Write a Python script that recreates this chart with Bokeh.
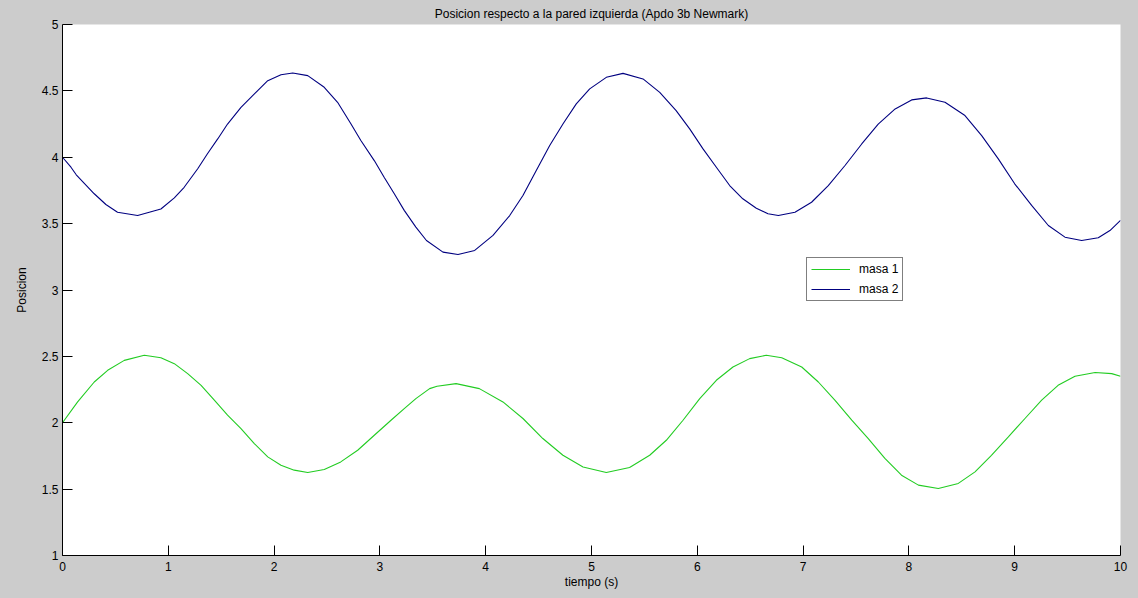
from bokeh.plotting import figure
from bokeh.models import FixedTicker, Legend, LegendItem, Range1d
from bokeh.embed import file_html
from bokeh.resources import INLINE

# ---- data ----
t_masa1 = [0.0, 0.143, 0.30, 0.427, 0.584, 0.773, 0.93, 1.057, 1.183, 1.31, 1.435, 1.56, 1.687,
           1.813, 1.94, 2.065, 2.19, 2.318, 2.474, 2.63, 2.79, 2.947, 3.105, 3.23, 3.34, 3.47,
           3.54, 3.72, 3.94, 4.163, 4.352, 4.54, 4.73, 4.92, 5.14, 5.36, 5.55, 5.707, 5.865,
           6.023, 6.18, 6.337, 6.495, 6.652, 6.798, 6.987, 7.144, 7.30, 7.46, 7.616, 7.773,
           7.93, 8.09, 8.278, 8.467, 8.625, 8.78, 8.94, 9.097, 9.255, 9.41, 9.57, 9.76, 9.917, 10.0]
masa1 = [2.0, 2.157, 2.307, 2.395, 2.47, 2.508, 2.49, 2.445, 2.37, 2.282, 2.17, 2.057, 1.956,
         1.843, 1.743, 1.68, 1.643, 1.625, 1.648, 1.705, 1.793, 1.906, 2.019, 2.107, 2.182, 2.257,
         2.275, 2.295, 2.257, 2.157, 2.032, 1.881, 1.755, 1.667, 1.625, 1.663, 1.755, 1.868, 2.019,
         2.182, 2.32, 2.42, 2.483, 2.508, 2.49, 2.42, 2.307, 2.17, 2.019, 1.881, 1.731,
         1.605, 1.53, 1.505, 1.543, 1.63, 1.755, 1.894, 2.032, 2.17, 2.282, 2.35, 2.378, 2.37, 2.35]

t_masa2 = [0.0, 0.08, 0.13, 0.30, 0.41, 0.52, 0.71, 0.93, 1.057, 1.15, 1.278, 1.37, 1.467, 1.56,
           1.687, 1.845, 1.94, 2.065, 2.176, 2.318, 2.474, 2.60, 2.727, 2.82, 2.947, 3.04, 3.136,
           3.23, 3.34, 3.44, 3.596, 3.738, 3.896, 4.069, 4.227, 4.352, 4.478, 4.605, 4.73, 4.856,
           4.983, 5.14, 5.298, 5.487, 5.645, 5.80, 5.928, 6.054, 6.18, 6.306, 6.43, 6.558, 6.668,
           6.766, 6.923, 7.08, 7.238, 7.396, 7.554, 7.71, 7.87, 8.026, 8.168, 8.341, 8.53, 8.688,
           8.845, 9.0, 9.16, 9.318, 9.475, 9.633, 9.79, 9.90, 10.0]
masa2 = [4.0, 3.925, 3.868, 3.725, 3.644, 3.586, 3.561, 3.61, 3.694, 3.774, 3.913, 4.026, 4.138, 4.25,
         4.376, 4.502, 4.577, 4.622, 4.635, 4.615, 4.527, 4.414, 4.25, 4.126, 3.975, 3.85, 3.725,
         3.60, 3.474, 3.373, 3.285, 3.268, 3.298, 3.411, 3.561, 3.712, 3.90, 4.088, 4.25, 4.402,
         4.515, 4.602, 4.632, 4.59, 4.489, 4.351, 4.214, 4.063, 3.925, 3.787, 3.687, 3.616, 3.574,
         3.561, 3.586, 3.661, 3.787, 3.938, 4.10, 4.25, 4.364, 4.432, 4.447, 4.414, 4.314, 4.163,
         3.988, 3.80, 3.637, 3.486, 3.398, 3.373, 3.393, 3.448, 3.524]

x_ticks = [0, 1, 2, 3, 4, 5, 6, 7, 8, 9, 10]
y_ticks = [1, 1.5, 2, 2.5, 3, 3.5, 4, 4.5, 5]
y_tick_labels = ["1", "1.5", "2", "2.5", "3", "3.5", "4", "4.5", "5"]
series_names = ["masa 1", "masa 2"]
series_colors = ["#22cc22", "#000080"]

title_text = "Posicion respecto a la pared izquierda (Apdo 3b Newmark)"
xlabel = "tiempo (s)"
ylabel = "Posicion"

FONT = "Liberation Sans"
BG = "#cccccc"

p = figure(width=1138, height=598, output_backend="svg", toolbar_location=None,
           x_range=Range1d(0, 10), y_range=Range1d(1, 5),
           min_border_left=62, min_border_right=18, min_border_top=24, min_border_bottom=43,
           title=title_text)

p.background_fill_color = "white"
p.border_fill_color = BG
p.outline_line_color = None
p.grid.visible = False

p.title.align = "center"
p.title.vertical_align = "top"
p.title.text_font = FONT
p.title.text_font_size = "12px"
p.title.text_font_style = "normal"
p.title.text_color = "black"
p.title.standoff = 4

r1 = p.line(t_masa1, masa1, line_color=series_colors[0], line_width=1.1)
r2 = p.line(t_masa2, masa2, line_color=series_colors[1], line_width=1.1)

for ax in (p.xaxis[0], p.yaxis[0]):
    ax.major_tick_in = 10
    ax.major_tick_out = 0
    ax.minor_tick_in = 0
    ax.minor_tick_out = 0
    ax.axis_line_color = "black"
    ax.major_tick_line_color = "black"
    ax.major_label_text_font = FONT
    ax.major_label_text_font_size = "12px"
    ax.major_label_text_color = "black"
    ax.axis_label_text_font = FONT
    ax.axis_label_text_font_size = "12px"
    ax.axis_label_text_font_style = "normal"
    ax.axis_label_text_color = "black"

p.xaxis.ticker = FixedTicker(ticks=x_ticks)
p.yaxis.ticker = FixedTicker(ticks=y_ticks)
p.yaxis.major_label_overrides = {float(v): s for v, s in zip(y_ticks, y_tick_labels)}
p.xaxis.axis_label = xlabel
p.yaxis.axis_label = ylabel
p.xaxis.major_label_standoff = 6
p.yaxis.major_label_standoff = 4
p.xaxis.axis_label_standoff = 1
p.yaxis.axis_label_standoff = 10

legend = Legend(items=[LegendItem(label=series_names[0], renderers=[r1]),
                       LegendItem(label=series_names[1], renderers=[r2])],
                location=(744, 254))
legend.border_line_color = "black"
legend.border_line_width = 1
legend.background_fill_color = "white"
legend.background_fill_alpha = 1
legend.padding = 4
legend.margin = 0
legend.spacing = 6
legend.glyph_width = 39
legend.glyph_height = 14
legend.label_height = 14
legend.label_standoff = 9
legend.label_text_font = FONT
legend.label_text_font_size = "12px"
legend.label_text_color = "black"
p.add_layout(legend)

html = file_html(p, INLINE)
html = html.replace("</head>", "<style>html, body { background: %s; }</style>\n</head>" % BG, 1)
open("out.html", "w").write(html)
